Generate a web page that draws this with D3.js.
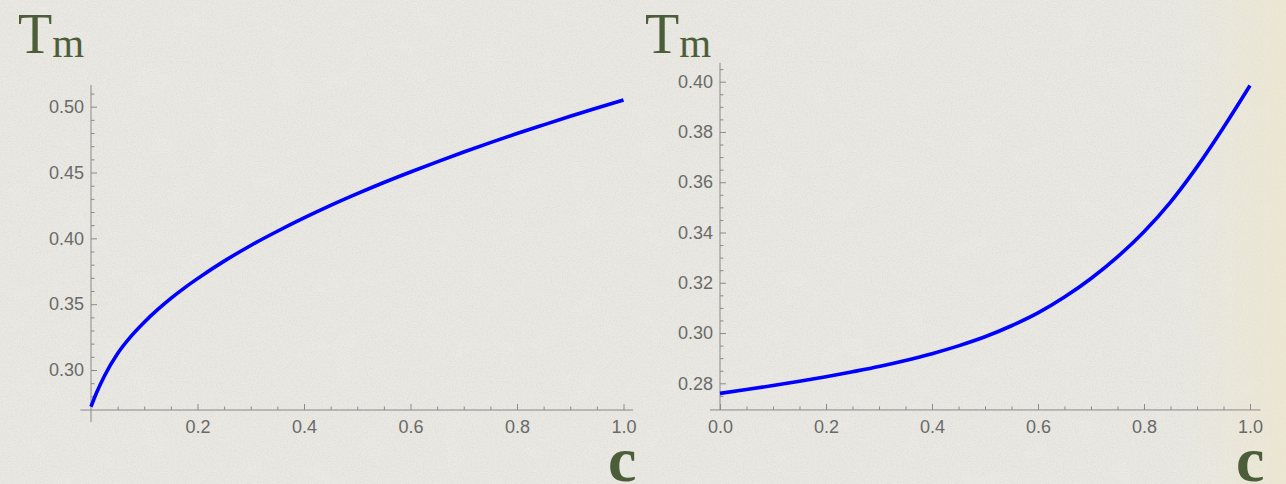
<!DOCTYPE html>
<html>
<head>
<meta charset="utf-8">
<script src="https://cdn.jsdelivr.net/npm/d3@7"></script>
<style>
  html, body { margin: 0; padding: 0; background: #e9e8e2; overflow: hidden; }
  svg { display: block; }
</style>
</head>
<body>
<svg id="chart" width="1286" height="484"></svg>
<script>
// Melting temperature Tm against concentration c, two panels.

// Left panel
const leftC  = [0, 0.01, 0.025, 0.05, 0.075, 0.1, 0.125, 0.15, 0.175, 0.2, 0.25, 0.3,
                0.35, 0.4, 0.45, 0.5, 0.55, 0.6, 0.65, 0.7, 0.75, 0.8, 0.85, 0.9, 0.95, 1.0];
const leftTm = [0.2721, 0.2823, 0.2953, 0.3125, 0.3255, 0.3363, 0.3458, 0.3544, 0.3622,
                0.3694, 0.3827, 0.3946, 0.4054, 0.4155, 0.4250, 0.4339, 0.4424, 0.4504,
                0.4581, 0.4656, 0.4727, 0.4796, 0.4862, 0.4927, 0.4990, 0.5051];
const leftXTicks = [0.2, 0.4, 0.6, 0.8, 1.0];
const leftYTicks = [0.30, 0.35, 0.40, 0.45, 0.50];

// Right panel
const rightC  = [0, 0.05, 0.1, 0.15, 0.2, 0.25, 0.3, 0.35, 0.4, 0.45, 0.5, 0.55, 0.6,
                 0.65, 0.7, 0.75, 0.8, 0.85, 0.9, 0.95, 1.0];
const rightTm = [0.2760, 0.2775, 0.2791, 0.2808, 0.2826, 0.2846, 0.2867, 0.2891, 0.2918,
                 0.2949, 0.2985, 0.3029, 0.3080, 0.3143, 0.3217, 0.3303, 0.3403, 0.3521,
                 0.3661, 0.3818, 0.3985];
const rightXTicks = [0.0, 0.2, 0.4, 0.6, 0.8, 1.0];
const rightYTicks = [0.28, 0.30, 0.32, 0.34, 0.36, 0.38, 0.40];

const svg = d3.select("#chart");
const W = 1286, H = 484;

// ---- paper background ----
const defs = svg.append("defs");
const grain = defs.append("filter").attr("id", "grain")
  .attr("x", 0).attr("y", 0).attr("width", "100%").attr("height", "100%");
grain.append("feTurbulence").attr("type", "fractalNoise")
  .attr("baseFrequency", 0.8).attr("numOctaves", 3).attr("seed", 7);
grain.append("feColorMatrix").attr("type", "matrix")
  .attr("values", "0 0 0 0 0.55  0 0 0 0 0.55  0 0 0 0 0.52  0 0 0 0.55 -0.22");

const mottle = defs.append("filter").attr("id", "mottle")
  .attr("x", 0).attr("y", 0).attr("width", "100%").attr("height", "100%");
mottle.append("feTurbulence").attr("type", "fractalNoise")
  .attr("baseFrequency", 0.03).attr("numOctaves", 2).attr("seed", 2);
mottle.append("feColorMatrix").attr("type", "matrix")
  .attr("values", "0 0 0 0 0.85  0 0 0 0 0.84  0 0 0 0 0.80  0 0 0 0.4 -0.15");

const warm = defs.append("linearGradient").attr("id", "warm")
  .attr("x1", 0).attr("x2", 1).attr("y1", 0).attr("y2", 0);
warm.append("stop").attr("offset", "0.92").attr("stop-color", "#efe8cf").attr("stop-opacity", 0);
warm.append("stop").attr("offset", "1").attr("stop-color", "#efe6c8").attr("stop-opacity", 0.6);

svg.append("rect").attr("width", W).attr("height", H).attr("fill", "#e9e8e2");
svg.append("rect").attr("width", W).attr("height", H).attr("filter", "url(#mottle)");
svg.append("rect").attr("width", W).attr("height", H).attr("filter", "url(#grain)");
svg.append("rect").attr("width", W).attr("height", H).attr("fill", "url(#warm)");

// ---- shared styling ----
const axisColor = "#8a8a8a";
const labelColor = "#6a6a6a";
const titleColor = "#4c5e39";
const tickFont = "'Liberation Sans', Arial, sans-serif";
const serif = "'Liberation Serif', 'Times New Roman', serif";

function minorTicks(lo, hi, step) {
  const out = [];
  const n = Math.round((hi - lo) / step);
  for (let i = 0; i <= n; i++) out.push(+(lo + i * step).toFixed(4));
  return out;
}

function panel(opts) {
  const { x, y, cData, tData, xTicks, yTicks, xFmt, yFmt,
          xMinor, yMinor, xExt, yExt, tmPos, cPos } = opts;
  const g = svg.append("g");

  // axis lines
  g.append("line")
    .attr("x1", x(xExt[0])).attr("x2", x(xExt[1]))
    .attr("y1", y(yExt[0])).attr("y2", y(yExt[0]))
    .attr("stroke", axisColor).attr("stroke-width", 1);
  g.append("line")
    .attr("x1", x(0)).attr("x2", x(0))
    .attr("y1", y(opts.yAxisBottom)).attr("y2", y(yExt[1]))
    .attr("stroke", axisColor).attr("stroke-width", 1);

  const y0 = y(yExt[0]);
  const x0 = x(0);

  // ticks point inward: up from the c axis, right from the Tm axis
  const xMinorAxis = d3.axisBottom(x).tickValues(xMinor).tickSizeInner(-3.5).tickSizeOuter(0).tickFormat("");
  const xMajorAxis = d3.axisBottom(x).tickValues(xTicks).tickSizeInner(-6).tickSizeOuter(0)
    .tickPadding(10).tickFormat(xFmt);
  const yMinorAxis = d3.axisLeft(y).tickValues(yMinor).tickSizeInner(-3.5).tickSizeOuter(0).tickFormat("");
  const yMajorAxis = d3.axisLeft(y).tickValues(yTicks).tickSizeInner(-6).tickSizeOuter(0)
    .tickPadding(7).tickFormat(yFmt);

  [xMinorAxis, xMajorAxis].forEach(ax => {
    const a = g.append("g").attr("transform", `translate(0,${y0})`).call(ax);
    a.select(".domain").remove();
    a.selectAll(".tick line").attr("stroke", axisColor);
    a.selectAll("text").attr("fill", labelColor).attr("font-family", tickFont)
      .attr("font-size", 18).attr("dy", "0.71em");
  });
  [yMinorAxis, yMajorAxis].forEach(ax => {
    const a = g.append("g").attr("transform", `translate(${x0},0)`).call(ax);
    a.select(".domain").remove();
    a.selectAll(".tick line").attr("stroke", axisColor);
    a.selectAll("text").attr("fill", labelColor).attr("font-family", tickFont)
      .attr("font-size", 18);
  });

  // curve
  const line = d3.line()
    .x((d, i) => x(cData[i]))
    .y(d => y(d))
    .curve(d3.curveMonotoneX);
  g.append("path").datum(tData)
    .attr("d", line)
    .attr("fill", "none")
    .attr("stroke", "#0000ff")
    .attr("stroke-width", 3.6);

  // axis titles
  const tm = g.append("text")
    .attr("x", tmPos[0]).attr("y", tmPos[1])
    .attr("font-family", serif).attr("fill", titleColor);
  tm.append("tspan").attr("font-size", 56).text("T");
  tm.append("tspan").attr("font-size", 41).attr("dy", 4).text("m");

  g.append("text")
    .attr("x", cPos[0]).attr("y", cPos[1])
    .attr("font-family", serif).attr("font-weight", "bold")
    .attr("font-size", 64).attr("fill", titleColor)
    .text("c");
}

// Left panel scales
const xL = d3.scaleLinear().domain([0, 1]).range([91, 623.5]);
const yL = d3.scaleLinear().domain([0.30, 0.50]).range([370, 106.7]);
panel({
  x: xL, y: yL, cData: leftC, tData: leftTm,
  xTicks: leftXTicks, yTicks: leftYTicks,
  xFmt: d3.format(".1f"), yFmt: d3.format(".2f"),
  xMinor: minorTicks(0.05, 1.0, 0.05).filter(v => Math.abs(v / 0.2 - Math.round(v / 0.2)) > 1e-6),
  yMinor: minorTicks(0.28, 0.51, 0.01).filter(v => Math.abs(v / 0.05 - Math.round(v / 0.05)) > 1e-6),
  xExt: [-0.02, 1.018], yExt: [0.2696, 0.5165], yAxisBottom: 0.2605,
  tmPos: [18, 53], cPos: [608, 481]
});

// Right panel scales
const xR = d3.scaleLinear().domain([0, 1]).range([720, 1250]);
const yR = d3.scaleLinear().domain([0.28, 0.40]).range([383.3, 81.7]);
panel({
  x: xR, y: yR, cData: rightC, tData: rightTm,
  xTicks: rightXTicks, yTicks: rightYTicks,
  xFmt: d3.format(".1f"), yFmt: d3.format(".2f"),
  xMinor: minorTicks(0.05, 1.0, 0.05).filter(v => Math.abs(v / 0.2 - Math.round(v / 0.2)) > 1e-6),
  yMinor: minorTicks(0.275, 0.405, 0.005).filter(v => Math.abs(v / 0.02 - Math.round(v / 0.02)) > 1e-6),
  xExt: [-0.019, 1.02], yExt: [0.2694, 0.4075], yAxisBottom: 0.2694,
  tmPos: [645, 53], cPos: [1236, 481]
});
</script>
</body>
</html>
